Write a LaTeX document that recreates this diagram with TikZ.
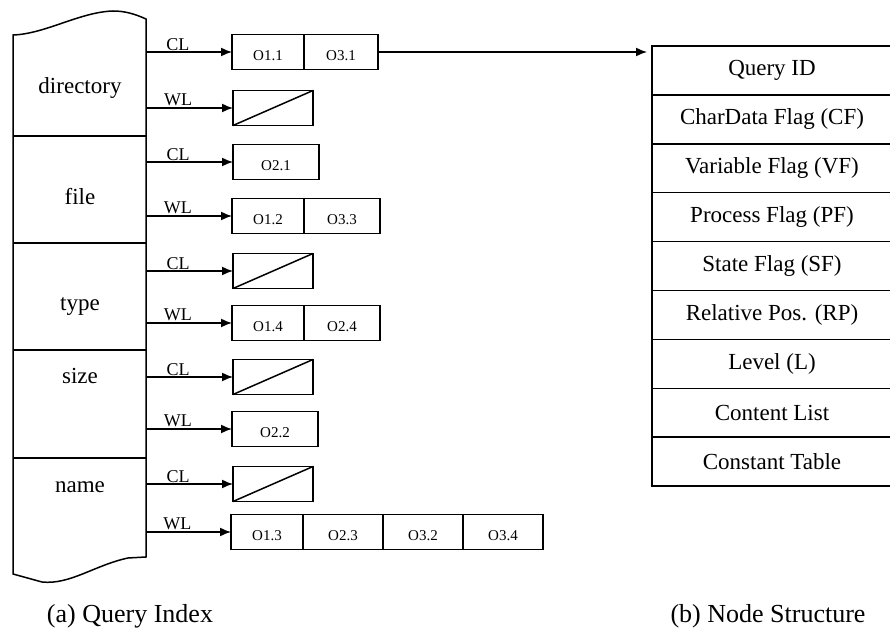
\documentclass[tikz,border=0pt]{standalone}
\usepackage{fontspec}
\setmainfont{Liberation Serif}
\usetikzlibrary{positioning,arrows.meta}

\tikzset{
  cell/.style={draw,minimum height=17.5pt,minimum width=#1,inner sep=0pt,outer sep=0pt,
    text height=9pt,text depth=0pt,font=\fontsize{7.5}{9}\selectfont},
  cell/.default=36pt,
  nilcell/.style={draw,minimum height=17.5pt,minimum width=40pt,inner sep=0pt,outer sep=0pt},
  link/.style={-{Latex[length=5.5pt,width=4.5pt]}},
  lbl/.style={above=0.5pt,inner sep=0pt,font=\fontsize{9}{10}\selectfont},
  key/.style={anchor=base,font=\fontsize{11.5}{13}\selectfont},
  field/.style={draw,minimum width=120pt,minimum height=24.45pt,inner sep=0pt,outer sep=0pt,
    font=\fontsize{11.5}{13}\selectfont},
  caption/.style={anchor=base,font=\fontsize{13}{15}\selectfont}
}

\begin{document}
\begin{tikzpicture}[x=0.5pt,y=-0.5pt,line width=0.75pt]
  \clip (0,0) rectangle (890,630);

  % (a) query index
  \draw (13,35) .. controls (45,34) and (80,12) .. (113,11)
    .. controls (125,11) and (135,14) .. (146,19) -- (146,557) -- (128,558)
    .. controls (95,565) and (70,585) .. (42,582) -- (13,574) -- cycle;
  \foreach \y in {136,243,350,458} \draw (13,\y) -- (146,\y);
  \coordinate (colR) at (146,0);

  \node[key] (dir) at (80,94) {directory};
  \node[key] (file) at (80,205) {file};
  \node[key] (type) at (80,311) {type};
  \node[key] (size) at (80,384) {size};
  \node[key] (name) at (80,493) {name};

  \node[cell,anchor=west] (o11) at (232,52) {O1.1};
  \node[cell=37pt,right=0pt of o11] (o31) {O3.1};
  \node[nilcell,anchor=west] (dirW) at (233,108) {};
  \node[cell=43pt,anchor=west] (o21) at (233,162) {O2.1};
  \node[cell,anchor=west] (o12) at (232,216) {O1.2};
  \node[cell=38pt,right=0pt of o12] (o33) {O3.3};
  \node[nilcell,anchor=west] (typeC) at (233,271) {};
  \node[cell,anchor=west] (o14) at (232,323) {O1.4};
  \node[cell=38pt,right=0pt of o14] (o24) {O2.4};
  \node[nilcell,anchor=west] (sizeC) at (233,377) {};
  \node[cell=43pt,anchor=west] (o22) at (232,429) {O2.2};
  \node[nilcell,anchor=west] (nameC) at (233,484) {};
  \node[cell,anchor=west] (o13) at (231,532) {O1.3};
  \node[cell=40pt,right=0pt of o13] (o23) {O2.3};
  \node[cell=40pt,right=0pt of o23] (o32) {O3.2};
  \node[cell=40pt,right=0pt of o32] (o34) {O3.4};

  \foreach \n in {dirW,typeC,sizeC,nameC} \draw (\n.south west) -- (\n.north east);

  \foreach \n/\t in {o11/CL,dirW/WL,o21/CL,o12/WL,typeC/CL,o14/WL,sizeC/CL,o22/WL,nameC/CL,o13/WL}
    \draw[link] (\n.west -| colR) -- (\n.west) node[lbl,pos=0.37] {\t};

  % (b) node structure
  \node[field,anchor=north west] (qid) at (652,46) {Query ID};
  \node[field,below=0pt of qid] (cf) {CharData Flag (CF)};
  \node[field,below=0pt of cf] (vf) {Variable Flag (VF)};
  \node[field,below=0pt of vf] (pf) {Process Flag (PF)};
  \node[field,below=0pt of pf] (sf) {State Flag (SF)};
  \node[field,below=0pt of sf] (rp) {Relative Pos. (RP)};
  \node[field,below=0pt of rp] (lev) {Level (L)};
  \node[field,below=0pt of lev] (clist) {Content List};
  \node[field,below=0pt of clist] (ctab) {Constant Table};
  \draw[line width=1.3pt] (clist.south west) -- (clist.south east);

  \draw[link,shorten >=2.5pt] (o31.east) -- (o31.east -| qid.west);

  \node[caption] (capa) at (130,623) {(a) Query Index};
  \node[caption] (capb) at (768,623) {(b) Node Structure};
\end{tikzpicture}
\end{document}
